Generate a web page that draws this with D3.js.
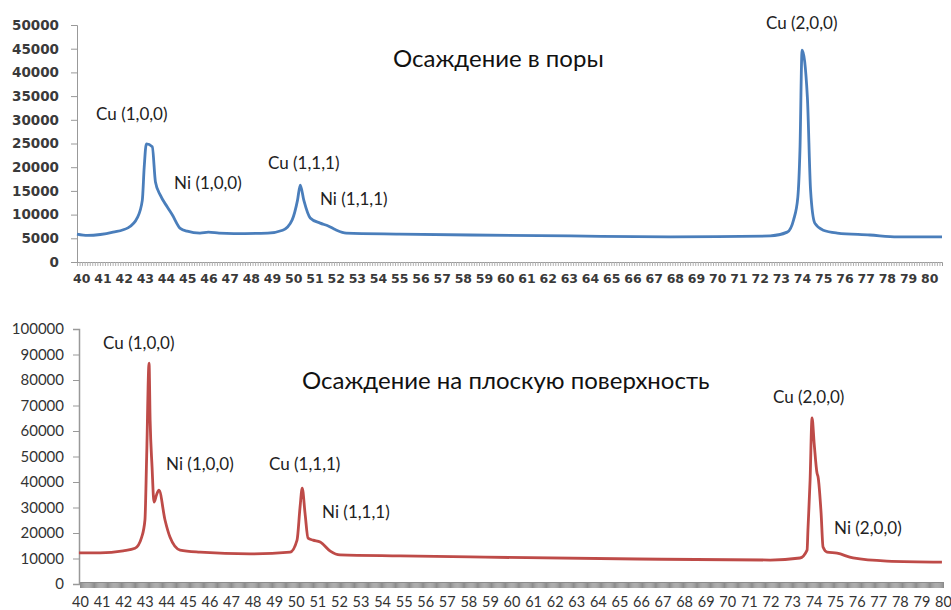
<!DOCTYPE html>
<html>
<head>
<meta charset="UTF-8">
<script src="https://cdn.jsdelivr.net/npm/d3@7"></script>
<style>
  body { margin: 0; background: #fff; }
  svg { display: block; }
  text { font-family: Lato, "Open Sans", sans-serif; }
</style>
</head>
<body>
<div id="chart"></div>
<script>
// --- data ---
// top panel: deposition into pores
const poresAngle = [39.8, 40.3, 40.9, 41.5, 42.2, 42.64, 42.88, 42.97, 43.07, 43.35, 43.5, 43.73, 44.06, 44.3, 44.67,
  45.0, 45.6, 46.0, 46.5, 47.2, 48.8, 49.5, 49.95, 50.2, 50.33, 50.5, 50.8, 51.27, 51.65, 52.0, 52.5, 55, 58.35,
  63.07, 67.8, 72.5, 73.3, 73.6, 73.8, 73.9, 74.0, 74.25, 74.4, 74.6, 75.0, 75.66, 77.2, 78.5, 80.6];
const poresIntensity = [5900, 5600, 5800, 6300, 7200, 9300, 13000, 20000, 24900, 24300, 16900, 14100, 11600, 9900, 7100,
  6500, 6100, 6300, 6100, 6000, 6100, 6700, 8900, 13000, 16200, 13000, 9300, 8200, 7600, 6800, 6100, 5900, 5700,
  5500, 5300, 5500, 6300, 8900, 13700, 23600, 44700, 34800, 15200, 8200, 6700, 6100, 5700, 5300, 5300];

// bottom panel: deposition on a flat surface
const flatAngle = [39.95, 40.93, 42.0, 42.55, 42.86, 43.01, 43.09, 43.2, 43.25, 43.34, 43.43, 43.55, 43.66, 43.94,
  44.17, 44.64, 45.56, 47.88, 49.74, 50.06, 50.2, 50.3, 50.43, 50.57, 50.8, 51.13, 51.6, 52.05, 54.84, 58.08,
  65.82, 71.99, 73.37, 73.7, 73.74, 73.84, 73.93, 74.03, 74.16, 74.21, 74.35, 74.44, 74.63, 75.09, 75.83, 77.4, 79.95];
const flatIntensity = [12200, 12200, 13000, 14000, 18400, 25100, 50000, 86600, 64300, 45900, 32100, 35000, 36800, 25100,
  18400, 13300, 12500, 11800, 12500, 17200, 30200, 37600, 27800, 18000, 17200, 16500, 12900, 11400, 11000, 10600,
  9800, 9400, 10200, 13300, 21200, 40800, 65100, 55000, 43500, 42000, 27800, 14500, 12500, 12100, 10200, 9000, 8600];

const angleTicks = d3.range(40, 81);
const poresYTicks = d3.range(0, 50001, 5000);
const flatYTicks = d3.range(0, 100001, 10000);

const poresTitle = "Осаждение в поры";
const flatTitle = "Осаждение на плоскую поверхность";
const poresLabels = [
  {text: "Cu (1,0,0)", a: 40.7, v: 30000},
  {text: "Ni (1,0,0)", a: 44.38, v: 15400},
  {text: "Cu (1,1,1)", a: 48.81, v: 19600},
  {text: "Ni (1,1,1)", a: 51.26, v: 12000},
  {text: "Cu (2,0,0)", a: 72.3, v: 49200}
];
const flatLabels = [
  {text: "Cu (1,0,0)", a: 41.07, v: 92200},
  {text: "Ni (1,0,0)", a: 43.99, v: 44700},
  {text: "Cu (1,1,1)", a: 48.76, v: 44700},
  {text: "Ni (1,1,1)", a: 51.22, v: 25900},
  {text: "Cu (2,0,0)", a: 72.12, v: 71000},
  {text: "Ni (2,0,0)", a: 74.95, v: 19600}
];

const W = 951, H = 610;
const svg = d3.select("#chart").append("svg")
  .attr("width", W)
  .attr("height", H);

// top panel
const xTop = d3.scaleLinear().domain([39.8, 80.6]).range([77, 942]);
const yTop = d3.scaleLinear().domain([0, 50000]).range([262, 25]);

svg.append("g")
  .attr("transform", "translate(0,262)")
  .call(d3.axisBottom(xTop).tickValues(d3.range(39.8, 80.6, 0.12)).tickSize(4).tickFormat(""))
  .call(g => g.selectAll("line").attr("stroke", "#b0b0b0"))
  .call(g => g.select(".domain").attr("stroke", "#999"));

svg.append("g")
  .attr("transform", "translate(0,262)")
  .call(d3.axisBottom(xTop).tickValues(angleTicks).tickSize(0).tickPadding(12).tickFormat(d3.format("d")))
  .call(g => g.select(".domain").remove())
  .selectAll("text")
    .style("font-family", "'DejaVu Sans', sans-serif")
    .style("font-weight", "bold")
    .style("font-size", "12.5px")
    .attr("fill", "#3a3a3a");

svg.append("g")
  .attr("transform", "translate(77,0)")
  .call(d3.axisLeft(yTop).tickValues(poresYTicks).tickSize(6).tickPadding(12).tickFormat(d3.format("d")))
  .call(g => g.selectAll("line").attr("stroke", "#999"))
  .call(g => g.select(".domain").attr("stroke", "#999"))
  .selectAll("text")
    .style("font-family", "'DejaVu Sans', sans-serif")
    .style("font-weight", "bold")
    .style("font-size", "13.5px")
    .attr("fill", "#3a3a3a");

const lineTop = d3.line()
  .x((d, i) => xTop(poresAngle[i]))
  .y(d => yTop(d))
  .curve(d3.curveMonotoneX);

svg.append("path")
  .datum(poresIntensity)
  .attr("d", lineTop)
  .attr("fill", "none")
  .attr("stroke", "#4a7ebb")
  .attr("stroke-width", 2.8)
  .attr("stroke-linejoin", "round");

svg.append("text")
  .attr("x", 393).attr("y", 67)
  .style("font-size", "24px")
  .attr("fill", "#111")
  .text(poresTitle);

svg.selectAll(".lblTop")
  .data(poresLabels)
  .enter().append("text")
    .attr("class", "lblTop")
    .attr("x", d => xTop(d.a))
    .attr("y", d => yTop(d.v))
    .style("font-size", "17px")
    .attr("fill", "#222")
    .text(d => d.text);

// bottom panel
const xBot = d3.scaleLinear().domain([40, 80]).range([80, 943]);
const yBot = d3.scaleLinear().domain([0, 100000]).range([584, 329]);

svg.append("g")
  .attr("transform", "translate(0,582)")
  .call(d3.axisBottom(xBot).tickValues(d3.range(40, 80.01, 0.05)).tickSize(6).tickFormat(""))
  .call(g => g.selectAll("line").attr("stroke", "#8c8c8c"))
  .call(g => g.select(".domain").attr("stroke", "#8c8c8c"));

svg.append("g")
  .attr("transform", "translate(0,584)")
  .call(d3.axisBottom(xBot).tickValues(angleTicks).tickSize(0).tickPadding(13).tickFormat(d3.format("d")))
  .call(g => g.select(".domain").remove())
  .selectAll("text")
    .style("font-size", "14.5px")
    .attr("fill", "#333");

svg.append("g")
  .attr("transform", "translate(79,0)")
  .call(d3.axisLeft(yBot).tickValues(flatYTicks).tickSize(6).tickPadding(9).tickFormat(d3.format("d")))
  .call(g => g.selectAll("line").attr("stroke", "#999"))
  .call(g => g.select(".domain").attr("stroke", "#999").attr("stroke-width", 1.5))
  .selectAll("text")
    .style("font-size", "15px")
    .attr("fill", "#333");

const lineBot = d3.line()
  .x((d, i) => xBot(flatAngle[i]))
  .y(d => yBot(d))
  .curve(d3.curveMonotoneX);

svg.append("path")
  .datum(flatIntensity)
  .attr("d", lineBot)
  .attr("fill", "none")
  .attr("stroke", "#be4b48")
  .attr("stroke-width", 2.8)
  .attr("stroke-linejoin", "round");

svg.append("text")
  .attr("x", 302).attr("y", 389)
  .style("font-size", "24px")
  .attr("fill", "#111")
  .text(flatTitle);

svg.selectAll(".lblBot")
  .data(flatLabels)
  .enter().append("text")
    .attr("class", "lblBot")
    .attr("x", d => xBot(d.a))
    .attr("y", d => yBot(d.v))
    .style("font-size", "17px")
    .attr("fill", "#222")
    .text(d => d.text);
</script>
</body>
</html>
